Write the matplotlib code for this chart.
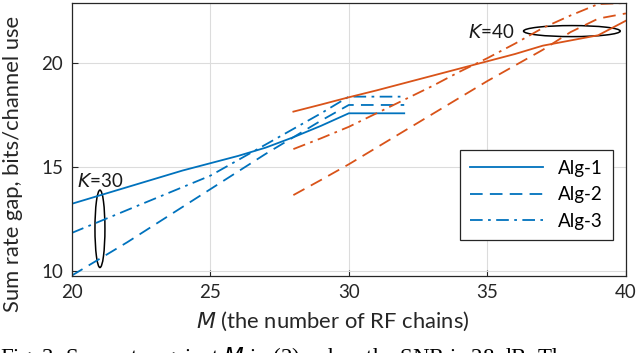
import matplotlib.pyplot as plt
from matplotlib.patches import Ellipse
import numpy as np

# K=30 curves (blue)
m_k30 = [20, 21, 22, 23, 24, 25, 26, 27, 28, 29, 30, 31, 32]
alg1_k30 = [13.25, 13.65, 14.05, 14.45, 14.85, 15.2, 15.55, 15.95, 16.45, 17.0, 17.6, 17.6, 17.6]
alg2_k30 = [9.8, 10.6, 11.4, 12.25, 13.1, 13.95, 14.8, 15.65, 16.45, 17.25, 18.0, 18.0, 18.0]
alg3_k30 = [11.85, 12.4, 12.95, 13.5, 14.05, 14.6, 15.35, 16.1, 16.85, 17.6, 18.4, 18.4, 18.4]

# K=40 curves (orange)
m_k40 = [28, 29, 30, 31, 32, 33, 34, 35, 36, 37, 38, 39, 40]
alg1_k40 = [17.68, 18.02, 18.37, 18.7, 19.05, 19.4, 19.75, 20.1, 20.45, 20.85, 21.1, 21.35, 22.05]
alg2_k40 = [13.67, 14.4, 15.15, 15.95, 16.75, 17.55, 18.35, 19.15, 19.9, 20.65, 21.5, 22.15, 22.4]
alg3_k40 = [15.88, 16.4, 16.95, 17.6, 18.25, 18.9, 19.6, 20.25, 20.95, 21.7, 22.3, 22.85, 22.9]

labels = ["Alg-1", "Alg-2", "Alg-3"]
blue, orange = "#0072BD", "#D95319"
styles = ["-", (0, (7, 4)), (0, (7, 3, 1.5, 3))]

caption = "Fig. 3: Sum rate against $M$ in (2), when the SNR is 28 dB. The case"

plt.rcParams["font.family"] = ["Lato", "DejaVu Sans"]
fig = plt.figure(figsize=(6.4, 3.53), dpi=100)
ax = fig.add_axes([0.112, 0.218, 0.866, 0.7735])

for y, ls, lab in zip([alg1_k30, alg2_k30, alg3_k30], styles, labels):
    ax.plot(m_k30, y, color=blue, ls=ls, lw=1.3, label=lab)
for y, ls in zip([alg1_k40, alg2_k40, alg3_k40], styles):
    ax.plot(m_k40, y, color=orange, ls=ls, lw=1.3)

ax.set_xlim(20, 40)
ax.set_ylim(9.78, 22.9)
ax.set_xticks([20, 25, 30, 35, 40])
ax.set_yticks([10, 15, 20])
ax.grid(True, color="#dcdcdc", lw=0.8)
ax.set_axisbelow(True)
ax.tick_params(direction="in", length=4, labelsize=13.5, colors="#262626", pad=6)
for s in ax.spines.values():
    s.set_color("#262626")
    s.set_linewidth(0.9)

ax.set_xlabel("$\\it{M}$ (the number of RF chains)", fontsize=15.8, color="#262626")
ax.xaxis.set_label_coords(0.471, -0.125)
ax.set_ylabel("Sum rate gap, bits/channel use", fontsize=15.8, color="#262626")
ax.yaxis.set_label_coords(-0.088, 0.41)

# annotations
ax.add_patch(Ellipse((21.02, 12.05), 0.36, 3.72, fill=False, ec="k", lw=1.1))
ax.text(20.2, 14.05, "$\\it{K}$=30", fontsize=13.5, color="#1a1a1a")
ax.add_patch(Ellipse((38.05, 21.55), 3.49, 0.53, fill=False, ec="k", lw=1.1))
ax.text(34.3, 21.2, "$\\it{K}$=40", fontsize=13.5, color="#1a1a1a")

leg = ax.legend(loc="lower right", bbox_to_anchor=(0.977, 0.132), borderaxespad=0,
                fontsize=13.5, fancybox=False, edgecolor="#262626", framealpha=1,
                handlelength=3.9, labelspacing=0.5, borderpad=0.55)
leg.get_frame().set_linewidth(0.9)

# caption line below the plot, cut by the bottom edge as in the source
fig.text(0.0, 8 / 353, caption, family="Liberation Serif", fontsize=16.5,
         va="top", ha="left")

fig.savefig("out.png", dpi=100)
